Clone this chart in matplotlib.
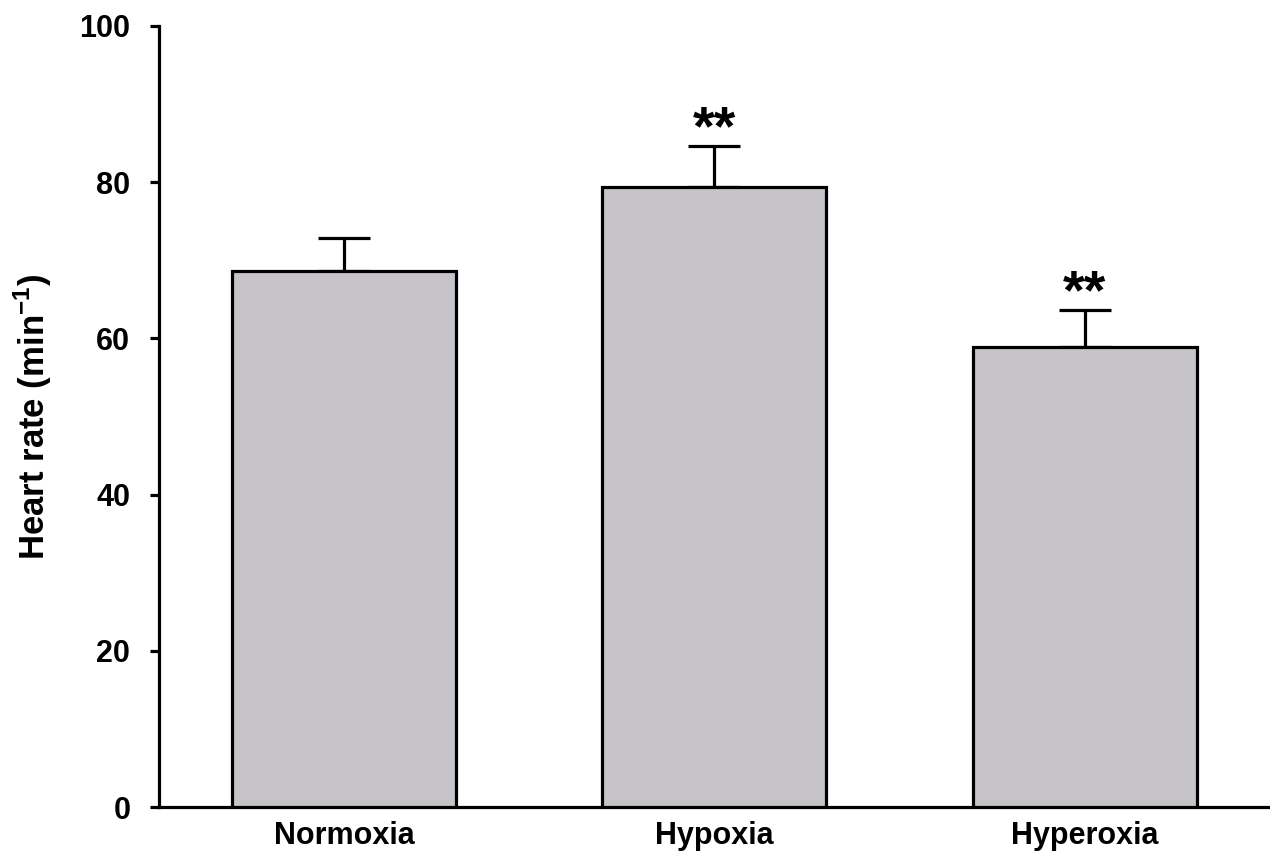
import matplotlib
matplotlib.use('Agg')
import matplotlib.pyplot as plt

groups = ['Normoxia', 'Hypoxia', 'Hyperoxia']
heart_rate = [68.6, 79.4, 58.9]
sem = [4.3, 5.2, 4.7]
stars = ['', '**', '**']
yticks = [0, 20, 40, 60, 80, 100]

plt.rcParams['font.family'] = ['Liberation Sans', 'DejaVu Sans']

fig = plt.figure(figsize=(12.7, 8.58), dpi=100)
ax = fig.add_axes([0.125, 0.0594, 0.875, 0.9103])

x = range(len(groups))
ax.errorbar(x, heart_rate, yerr=[[0] * len(sem), sem], fmt='none',
            ecolor='black', elinewidth=2.3, capsize=19, capthick=2.3, zorder=2)
ax.bar(x, heart_rate, width=0.605, color='#c6c4c8', edgecolor='black',
       linewidth=2.3, zorder=3)

# significance marks sit just above the error caps
for i, s in enumerate(stars):
    if s:
        ax.text(i, heart_rate[i] + sem[i] - 1.3, s, ha='center', va='bottom',
                fontsize=40, fontweight='bold')

ax.set_xlim(-0.5, 2.5)
ax.set_ylim(0, 100)
ax.set_yticks(yticks)
ax.set_xticks(list(x))
ax.set_xticklabels(groups, fontsize=22, fontweight='bold')
ax.set_yticklabels([str(t) for t in yticks], fontsize=22, fontweight='bold')
ax.tick_params(axis='y', direction='out', length=6.5, width=2.3, pad=14)
ax.tick_params(axis='x', length=0, pad=10)
ax.set_ylabel(r'Heart rate (min$^{\mathregular{-1}}$)', fontsize=25,
              fontweight='bold', labelpad=18)

for side in ['top', 'right']:
    ax.spines[side].set_visible(False)
for side in ['left', 'bottom']:
    ax.spines[side].set_linewidth(2.3)

fig.savefig('out.png', dpi=100)
